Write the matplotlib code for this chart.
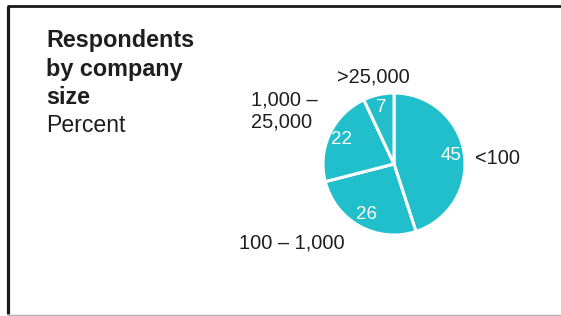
import matplotlib
matplotlib.use("Agg")
import matplotlib.pyplot as plt
from matplotlib.lines import Line2D

# data
sizes = ["<100", "100 – 1,000", "1,000 –\n25,000", ">25,000"]
shares = [45, 26, 22, 7]

W, H = 561, 316
plt.rcParams['font.family'] = ['Liberation Sans', 'DejaVu Sans']
teal = "#20bfcb"
ink = "#1e1e1e"

fig = plt.figure(figsize=(W / 100, H / 100), dpi=100)

def px(x, y):
    # pixel position (from top-left) -> figure fraction
    return x / W, 1 - y / H

# frame: dark left and top rules, light rule at bottom
fig.add_artist(Line2D([8 / W, 8 / W], [1 - 5.5 / H, 1 - 314 / H], color="#1a1a1a", lw=2.3,
                      solid_capstyle="butt", transform=fig.transFigure))
fig.add_artist(Line2D([7 / W, 1], [1 - 5.5 / H, 1 - 5.5 / H], color="#1a1a1a", lw=2.0,
                      solid_capstyle="butt", transform=fig.transFigure))
fig.add_artist(Line2D([7 / W, 1], [1 - 314.5 / H, 1 - 314.5 / H], color="#b0b0b0", lw=1.0,
                      solid_capstyle="butt", transform=fig.transFigure))

# title block
for i, line in enumerate(["Respondents", "by company", "size"]):
    fig.text(*px(46, 41 + 28 * i), line, fontsize=16.8, fontweight="bold", color=ink, va="center", ha="left")
fig.text(*px(46, 125), "Percent", fontsize=16.6, color=ink, va="center", ha="left")

# pie
cx, cy, r = 394, 164, 71
ax = fig.add_axes([(cx - r) / W, 1 - (cy + r) / H, 2 * r / W, 2 * r / H])
wedges, _, autotexts = ax.pie(shares, startangle=90, counterclock=False, colors=[teal] * len(shares),
                              autopct=lambda p: f"{p:.0f}", pctdistance=0.81,
                              wedgeprops=dict(edgecolor="white", linewidth=2.2),
                              textprops=dict(color="white", fontsize=13.5))
ax.set_xlim(-1.0, 1.0)
ax.set_ylim(-1.0, 1.0)
ax.set_aspect("equal")
ax.axis("off")

# category labels outside the pie
lab = dict(fontsize=14.4, color=ink, va="center")
fig.text(*px(475, 159), sizes[0], ha="left", **lab)
fig.text(*px(292, 243), sizes[1], ha="center", **lab)
fig.text(*px(251, 111), sizes[2], ha="left", linespacing=1.2, **lab)
fig.text(*px(373, 77), sizes[3], ha="center", **lab)

fig.savefig("out.png", dpi=100)
